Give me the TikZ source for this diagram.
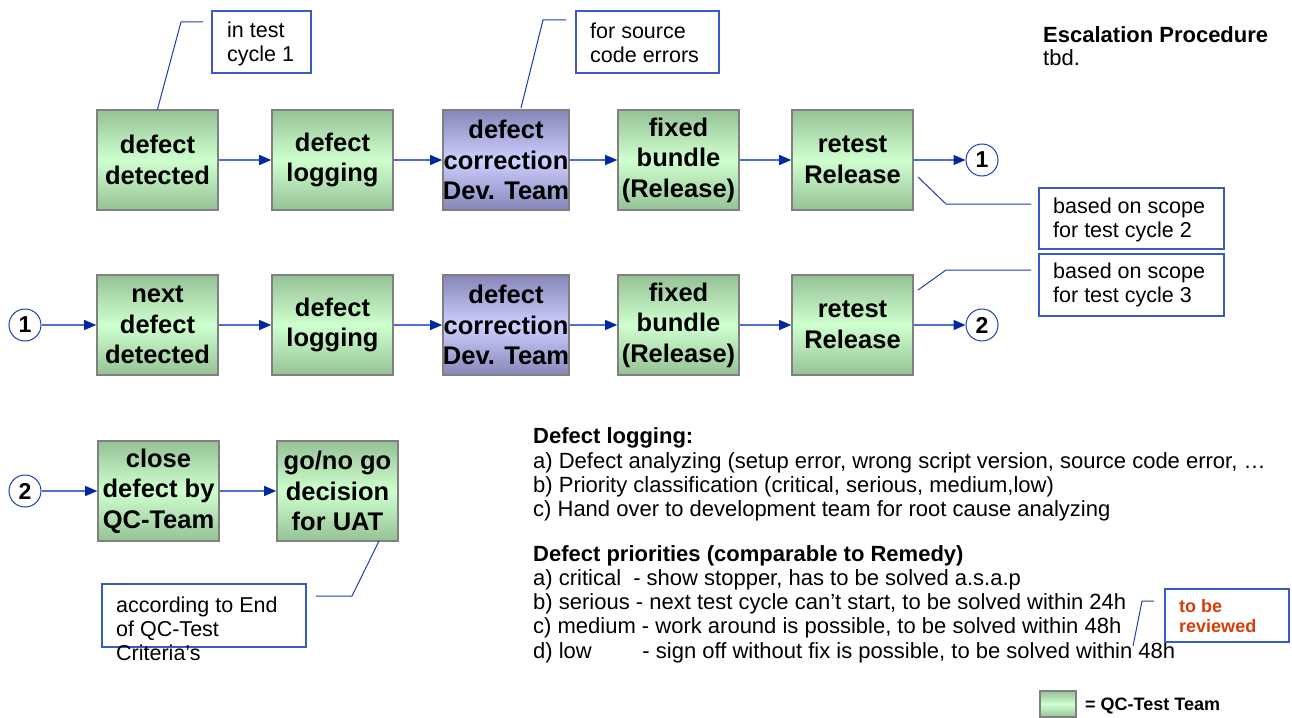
\documentclass[tikz,border=0pt]{standalone}
\usepackage{fontspec}
\setmainfont{Liberation Sans}
\usetikzlibrary{arrows.meta,calc}
\definecolor{gdark}{RGB}{150,194,150}
\definecolor{glight}{RGB}{206,255,206}
\definecolor{pdark}{RGB}{134,134,184}
\definecolor{plight}{RGB}{206,206,255}
\definecolor{boxgray}{RGB}{128,128,128}
\definecolor{connline}{RGB}{80,110,205}
\definecolor{conntip}{RGB}{0,40,165}
\definecolor{callblue}{RGB}{60,90,195}
\definecolor{leadblue}{RGB}{30,60,180}
\definecolor{revred}{RGB}{215,60,10}
\tikzset{
  stepbase/.style={draw=boxgray, line width=1.6pt, minimum width=121pt, minimum height=100pt,
    inner sep=0pt, align=center, font=\fontsize{25.5}{30.5}\selectfont\bfseries},
  qcbox/.style={stepbase, top color=gdark, bottom color=gdark, middle color=glight},
  devbox/.style={stepbase, top color=pdark, bottom color=pdark, middle color=plight},
  numc/.style={circle, draw=leadblue, line width=1pt, fill=white, minimum size=32pt, inner sep=0pt,
    font=\fontsize{23}{24}\selectfont\bfseries},
  conn/.style={draw=connline, line width=1.1pt, -{Triangle[length=12pt,width=10pt,color=conntip]}},
  callbox/.style={draw=callblue, line width=1.1pt, fill=white, inner sep=0pt},
  calltxt/.style={inner sep=0pt, align=left, font=\fontsize{21.5}{24}\selectfont},
  leader/.style={draw=leadblue, line width=1pt},
}
\begin{document}
\begin{tikzpicture}[x=1pt,y=-1pt]
\path[use as bounding box, fill=white] (0,0) rectangle (1292,717);

% row 1
\node[qcbox] (a1) at (157.5,160) {defect\\detected};
\node[qcbox] (a2) at (332.5,160) {defect\\logging};
\node[devbox] (a3) at (506,160) {defect\\correction\\Dev. Team};
\node[qcbox] (a4) at (678.5,160) {fixed\\bundle\\(Release)};
\node[qcbox] (a5) at (852.5,160) {retest\\Release};
\node[numc] (n1a) at (982,160) {1};
\draw[conn] (a1) -- (a2);
\draw[conn] (a2) -- (a3);
\draw[conn] (a3) -- (a4);
\draw[conn] (a4) -- (a5);
\draw[conn] (a5) -- (n1a);

% row 2
\node[numc] (n1b) at (25,325) {1};
\node[qcbox] (b1) at (157.5,325) {next\\defect\\detected};
\node[qcbox] (b2) at (332.5,325) {defect\\logging};
\node[devbox] (b3) at (506,325) {defect\\correction\\Dev. Team};
\node[qcbox] (b4) at (678.5,325) {fixed\\bundle\\(Release)};
\node[qcbox] (b5) at (852.5,325) {retest\\Release};
\node[numc] (n2a) at (982,325) {2};
\draw[conn] (n1b) -- (b1);
\draw[conn] (b1) -- (b2);
\draw[conn] (b2) -- (b3);
\draw[conn] (b3) -- (b4);
\draw[conn] (b4) -- (b5);
\draw[conn] (b5) -- (n2a);

% row 3
\node[numc] (n2b) at (25,491) {2};
\node[qcbox] (c1) at (158.5,491) {close\\defect by\\QC-Team};
\node[qcbox] (c2) at (337.5,491) {go/no go\\decision\\for UAT};
\draw[conn] (n2b) -- (c1);
\draw[conn] (c1) -- (c2);

% callouts
\node[callbox, minimum width=99pt, minimum height=62pt] (k1) at (261.5,42) {};
\node[calltxt, anchor=west] (k1t) at (227,43.5) {in test\\cycle 1};
\coordinate (l1a) at (181,22);
\coordinate (l1b) at (203,22);
\draw[leader] (a1.north) -- (l1a) -- (l1b);

\node[callbox, minimum width=143pt, minimum height=62pt] (k2) at (647.5,42) {};
\node[calltxt, anchor=west] (k2t) at (590,43) {for source\\code errors};
\coordinate (l2s) at (521,108);
\coordinate (l2a) at (543,20);
\coordinate (l2b) at (566,20);
\draw[leader] (l2s) -- (l2a) -- (l2b);

\node[callbox, minimum width=185pt, minimum height=61pt] (k3) at (1131.5,218.5) {};
\node[calltxt, anchor=west] (k3t) at (1053,219.5) {based on scope\\for test cycle 2};
\coordinate (l3s) at (918,177);
\coordinate (l3a) at (946,204);
\coordinate (l3b) at (1031,204);
\draw[leader] (l3s) -- (l3a) -- (l3b);

\node[callbox, minimum width=185pt, minimum height=62pt] (k4) at (1131.5,285) {};
\node[calltxt, anchor=west] (k4t) at (1053,285) {based on scope\\for test cycle 3};
\coordinate (l4s) at (918,290);
\coordinate (l4a) at (946,270);
\coordinate (l4b) at (1031,270);
\draw[leader] (l4s) -- (l4a) -- (l4b);

\node[callbox, minimum width=204pt, minimum height=63pt] (k5) at (204,615.5) {};
\node[calltxt, anchor=west] (k5t) at (116,629) {according to End\\of QC-Test\\Criteria's};
\coordinate (l5s) at (379,541);
\coordinate (l5a) at (352,596);
\coordinate (l5b) at (316,596);
\draw[leader] (l5s) -- (l5a) -- (l5b);

% escalation
\node[calltxt, anchor=west, font=\fontsize{22}{23}\selectfont] (esc) at (1043,46.5) {\textbf{Escalation Procedure}\\tbd.};

% defect logging text
\node[calltxt, anchor=west, font=\fontsize{22}{24.3}\selectfont] (dl) at (533,474.5)
  {\textbf{Defect logging:}\\
   a) Defect analyzing (setup error, wrong script version, source code error, \dots\\
   b) Priority classification (critical, serious, medium,low)\\
   c) Hand over to development team for root cause analyzing};
\node[calltxt, anchor=west, font=\fontsize{22}{24.3}\selectfont] (dp) at (533,604)
  {\textbf{Defect priorities (comparable to Remedy)}\\
   a) critical\hspace{0.55em}- show stopper, has to be solved a.s.a.p\\
   b) serious - next test cycle can’t start, to be solved within 24h\\
   c) medium - work around is possible, to be solved within 48h\\
   d) low\hspace{2.3em}- sign off without fix is possible, to be solved within 48h};

% to be reviewed
\node[callbox, minimum width=124pt, minimum height=53pt] (rv) at (1227,615.5) {};
\node[calltxt, anchor=west, text=revred, font=\fontsize{18}{20}\selectfont\bfseries] (rvt) at (1179,616.5) {to be\\reviewed};
\coordinate (l6s) at (1133,646);
\coordinate (l6a) at (1142,601);
\coordinate (l6b) at (1154,601);
\draw[leader] (l6s) -- (l6a) -- (l6b);

% legend
\node[draw=boxgray, line width=1.3pt, top color=gdark, bottom color=gdark, middle color=glight,
  minimum width=36pt, minimum height=26pt, inner sep=0pt] (lg) at (1058,704) {};
\node[inner sep=0pt, anchor=west, font=\fontsize{18}{20}\selectfont\bfseries] (lgt) at (1085,706) {= QC-Test Team};
\end{tikzpicture}
\end{document}
